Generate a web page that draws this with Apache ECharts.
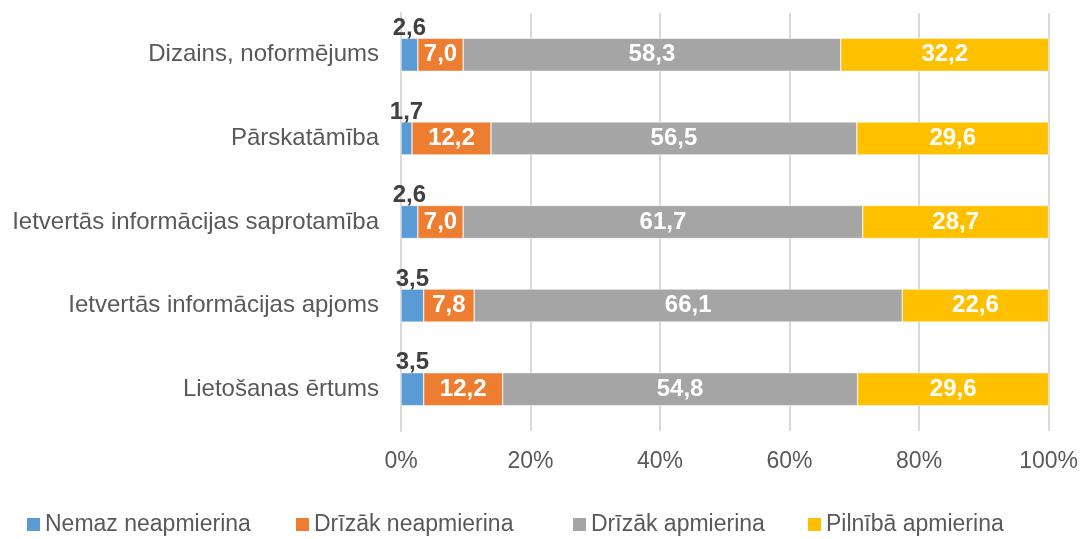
<!DOCTYPE html>
<html>
<head>
<meta charset="utf-8">
<script src="https://cdn.jsdelivr.net/npm/echarts@6/dist/echarts.min.js"></script>
<style>
  html, body { margin: 0; padding: 0; background: #fff; }
  #chart { width: 1081px; height: 539px; }
</style>
</head>
<body>
<div id="chart"></div>
<script>
// kategorijas no apakšas uz augšu (y ass kategoriju secība)
var categories = [
  'Lietošanas ērtums',
  'Ietvertās informācijas apjoms',
  'Ietvertās informācijas saprotamība',
  'Pārskatāmība',
  'Dizains, noformējums'
];
var seriesNames = ['Nemaz neapmierina', 'Drīzāk neapmierina', 'Drīzāk apmierina', 'Pilnībā apmierina'];
var nemaz = [3.5, 3.5, 2.6, 1.7, 2.6];
var drizakNe = [12.2, 7.8, 7.0, 12.2, 7.0];
var drizakAp = [54.8, 66.1, 61.7, 56.5, 58.3];
var pilniba = [29.6, 22.6, 28.7, 29.6, 32.2];
var xTicks = [0, 20, 40, 60, 80, 100];

var fmt = function (p) { return p.value.toFixed(1).replace('.', ','); };
var font = '"Liberation Sans", sans-serif';

function makeSeries(name, data, color, outside) {
  return {
    name: name,
    type: 'bar',
    stack: 'total',
    barWidth: 33,
    data: data,
    itemStyle: { color: color, borderColor: '#fff', borderWidth: 0.5 },
    label: {
      show: true,
      position: outside ? 'top' : 'inside',
      distance: -2,
      formatter: fmt,
      color: outside ? '#404040' : '#fff',
      fontWeight: 'bold',
      fontSize: 24,
      fontFamily: font
    }
  };
}

// Excel izkārto leģendu nevienmērīgi, tāpēc katram ierakstam sava leģenda
var legendLeft = [27, 296, 573, 808];
var legends = seriesNames.map(function (n, i) {
  return {
    data: [n],
    top: 513,
    left: legendLeft[i],
    padding: 0,
    itemWidth: 13,
    itemHeight: 13,
    icon: 'rect',
    itemStyle: { borderWidth: 0 },
    textStyle: { fontSize: 23, color: '#595959', fontFamily: font }
  };
});

var chart = echarts.init(document.getElementById('chart'));
chart.setOption({
  animation: false,
  grid: { left: 401, right: 32, top: 13, bottom: 108 },
  legend: legends,
  xAxis: {
    type: 'value',
    min: 0,
    max: 100,
    interval: 20,
    axisLabel: {
      formatter: function (v) { return xTicks.indexOf(v) >= 0 ? v + '%' : ''; },
      fontSize: 23,
      color: '#595959',
      fontFamily: font,
      margin: 19
    },
    axisLine: { show: false },
    axisTick: { show: false },
    splitLine: { lineStyle: { color: '#d9d9d9', width: 2 } }
  },
  yAxis: {
    type: 'category',
    data: categories,
    axisLine: { show: true, lineStyle: { color: '#d9d9d9', width: 2 } },
    axisTick: { show: false },
    axisLabel: { fontSize: 24, color: '#595959', fontFamily: font, margin: 22 }
  },
  series: [
    makeSeries(seriesNames[0], nemaz, '#5B9BD5', true),
    makeSeries(seriesNames[1], drizakNe, '#ED7D31', false),
    makeSeries(seriesNames[2], drizakAp, '#A5A5A5', false),
    makeSeries(seriesNames[3], pilniba, '#FFC000', false)
  ]
});
</script>
</body>
</html>
